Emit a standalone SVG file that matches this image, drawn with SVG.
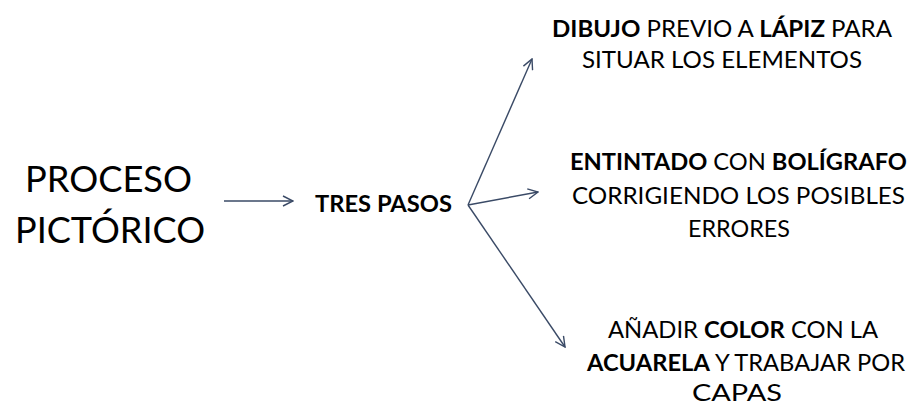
<svg xmlns="http://www.w3.org/2000/svg" width="914" height="405" viewBox="0 0 914 405">
<style>
text{font-family:Lato,"Open Sans","Liberation Sans",sans-serif;fill:#000;text-anchor:start}
.s{font-size:22.5px}
.t{font-size:37px}
.b{font-weight:bold}
.c{stroke:#3a4a66;stroke-width:1.4;fill:none;marker-end:url(#ah)}
</style>
<defs>
<marker id="ah" viewBox="0 0 12 12" refX="11" refY="6" markerWidth="12" markerHeight="12" markerUnits="userSpaceOnUse" orient="auto">
<path d="M1,1 L11,6 L1,11" fill="none" stroke="#3a4a66" stroke-width="1.4"/>
</marker>
</defs>
<rect width="914" height="405" fill="#fff"/>
<g id="connectors">
<line class="c" x1="224" y1="201" x2="293" y2="201"/>
<line class="c" x1="468" y1="205" x2="532" y2="59"/>
<line class="c" x1="468" y1="205" x2="538" y2="192"/>
<line class="c" x1="468" y1="205" x2="565" y2="347"/>
</g>
<g id="proceso">
<text class="t" x="25" y="192" textLength="167" lengthAdjust="spacingAndGlyphs">PROCESO</text>
<text class="t" x="15" y="243" textLength="190" lengthAdjust="spacingAndGlyphs">PICTÓRICO</text>
</g>
<g id="tres-pasos">
<text class="s b" x="315" y="212" textLength="137" lengthAdjust="spacingAndGlyphs">TRES PASOS</text>
</g>
<g id="paso1">
<text class="s" x="552" y="37" textLength="340" lengthAdjust="spacingAndGlyphs"><tspan class="b">DIBUJO</tspan> PREVIO A <tspan class="b">LÁPIZ</tspan> PARA</text>
<text class="s" x="582" y="68" textLength="280" lengthAdjust="spacingAndGlyphs">SITUAR LOS ELEMENTOS</text>
</g>
<g id="paso2">
<text class="s" x="570" y="170" textLength="337" lengthAdjust="spacingAndGlyphs"><tspan class="b">ENTINTADO</tspan> CON <tspan class="b">BOLÍGRAFO</tspan></text>
<text class="s" x="572" y="204" textLength="333" lengthAdjust="spacingAndGlyphs">CORRIGIENDO LOS POSIBLES</text>
<text class="s" x="688" y="237" textLength="102" lengthAdjust="spacingAndGlyphs">ERRORES</text>
</g>
<g id="paso3">
<text class="s" x="608" y="338" textLength="270" lengthAdjust="spacingAndGlyphs">AÑADIR <tspan class="b">COLOR</tspan> CON LA</text>
<text class="s" x="587" y="371" textLength="318" lengthAdjust="spacingAndGlyphs"><tspan class="b">ACUARELA</tspan> Y TRABAJAR POR</text>
<text class="s" x="692" y="401" textLength="90" lengthAdjust="spacingAndGlyphs">CAPAS</text>
</g>
</svg>
